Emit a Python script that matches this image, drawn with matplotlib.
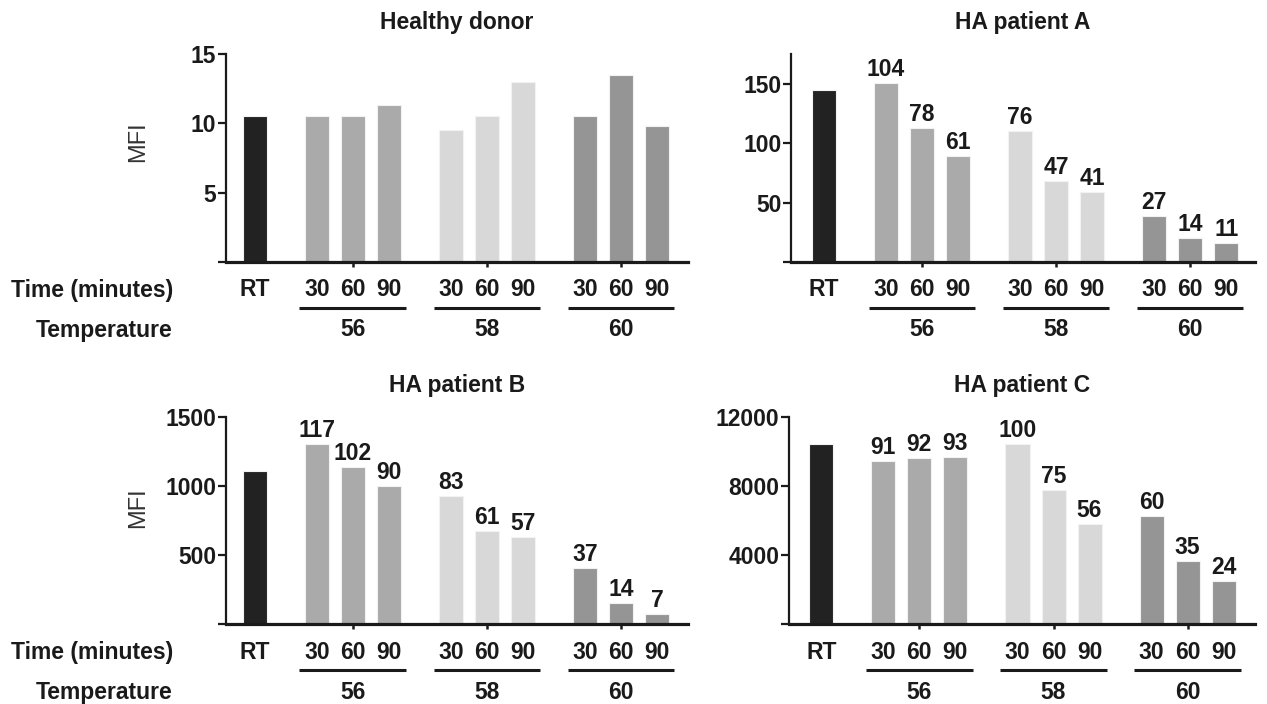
import matplotlib
matplotlib.use('Agg')
import matplotlib.pyplot as plt
from matplotlib import transforms

plt.rcParams['font.family'] = ['Liberation Sans', 'DejaVu Sans']

# ---------------- data ----------------
titles = ['Healthy donor', 'HA patient A', 'HA patient B', 'HA patient C']
time_labels = ['RT', '30', '60', '90', '30', '60', '90', '30', '60', '90']
temperatures = ['56', '58', '60']

healthy = [10.5, 10.5, 10.5, 11.3, 9.5, 10.5, 13.0, 10.5, 13.5, 9.8]
patient_a = [145, 151, 113, 89, 110, 68, 59, 39, 20, 16]
patient_b = [1110, 1300, 1135, 1000, 925, 677, 633, 410, 156, 78]
patient_c = [10400, 9450, 9600, 9650, 10400, 7750, 5800, 6250, 3650, 2500]

patient_a_pct = ['', '104', '78', '61', '76', '47', '41', '27', '14', '11']
patient_b_pct = ['', '117', '102', '90', '83', '61', '57', '37', '14', '7']
patient_c_pct = ['', '91', '92', '93', '100', '75', '56', '60', '35', '24']
healthy_pct = [''] * 10

y_ticks = [[0, 5, 10, 15], [0, 50, 100, 150], [0, 500, 1000, 1500], [0, 4000, 8000, 12000]]
y_max = [15, 175, 1500, 12000]

series = [healthy, patient_a, patient_b, patient_c]
labels = [healthy_pct, patient_a_pct, patient_b_pct, patient_c_pct]

# ---------------- style / layout ----------------
W, H = 1267, 704
DPI = 100
fig = plt.figure(figsize=(W / DPI, H / DPI), dpi=DPI)

bar_colors = ['#222222'] + ['#aaaaaa'] * 3 + ['#d8d8d8'] * 3 + ['#959595'] * 3
group_step = 3.725
group_centers = [2.72 + group_step * i for i in range(3)]
positions = [0.0] + [c + d for c in group_centers for d in (-1, 0, 1)]

# axes rectangles in pixels: left, right, top, bottom(baseline)
rects = [
    (226, 688, 54, 262),
    (791, 1255, 54, 262),
    (226, 688, 416.7, 624.3),
    (789, 1255, 416.7, 624.3),
]
xlims = [(-0.80, 12.03), (-0.92, 11.97), (-0.80, 12.03), (-0.90, 12.04)]

FS = 16.5
TXT = '#1a1a1a'

for i in range(4):
    l, r, t, b = rects[i]
    ax = fig.add_axes([l / W, (H - b) / H, (r - l) / W, (b - t) / H])
    ax.bar(positions, series[i], width=0.667, color=bar_colors,
           edgecolor='#f2f2f2', linewidth=0.8, zorder=2)
    ax.set_xlim(*xlims[i])
    ax.set_ylim(0, y_max[i])
    ax.set_yticks(y_ticks[i])
    ax.set_yticklabels([''] + [str(v) for v in y_ticks[i][1:]],
                       fontsize=FS, fontweight='bold', color=TXT)
    ax.set_xticks(group_centers)
    ax.set_xticklabels([])
    for s in ('top', 'right'):
        ax.spines[s].set_visible(False)
    ax.spines['left'].set_linewidth(1.6)
    ax.spines['bottom'].set_linewidth(2.3)
    ax.spines['left'].set_color(TXT)
    ax.spines['bottom'].set_color(TXT)
    ax.tick_params(axis='y', direction='out', length=6, width=1.6, pad=1, colors=TXT)
    ax.tick_params(axis='x', direction='out', length=3.8, width=1.8, colors=TXT)
    ax.set_title(titles[i], fontsize=FS, fontweight='bold', color=TXT, pad=18)

    xt = ax.get_xaxis_transform()
    # data labels above bars
    for x, v, lab in zip(positions, series[i], labels[i]):
        if lab:
            ax.annotate(lab, xy=(x, v), xytext=(0, 2), textcoords='offset pixels',
                        ha='center', va='bottom', fontsize=FS, fontweight='bold',
                        color=TXT, zorder=3)
    # time labels
    for x, lab in zip(positions, time_labels):
        ax.annotate(lab, xy=(x, 0), xycoords=xt, xytext=(0, -28),
                    textcoords='offset pixels', ha='center', va='center',
                    fontsize=FS, fontweight='bold', color=TXT, annotation_clip=False)
    # group underlines and temperature labels
    line_tr = transforms.offset_copy(xt, fig=fig, x=0, y=-46, units='dots')
    for c, temp in zip(group_centers, temperatures):
        ax.plot([c - 1.48, c + 1.48], [0, 0], transform=line_tr, color=TXT,
                linewidth=2.2, clip_on=False, solid_capstyle='butt')
        ax.annotate(temp, xy=(c, 0), xycoords=xt, xytext=(0, -68),
                    textcoords='offset pixels', ha='center', va='center',
                    fontsize=FS, fontweight='bold', color=TXT, annotation_clip=False)

# row labels on the left
for base in (262, 624.3):
    fig.text(173 / W, (H - (base + 28)) / H, 'Time (minutes)', ha='right', va='center',
             fontsize=FS, fontweight='bold', color=TXT)
    fig.text(173 / W, (H - (base + 68)) / H, 'Temperature', ha='right', va='center',
             fontsize=FS, fontweight='bold', color=TXT)

# MFI labels
for yc in (142, 508):
    fig.text(138 / W, (H - yc) / H, 'MFI', rotation=90, ha='center', va='center',
             fontsize=17, color='#333333')

fig.savefig('out.png', dpi=DPI, facecolor='white')
